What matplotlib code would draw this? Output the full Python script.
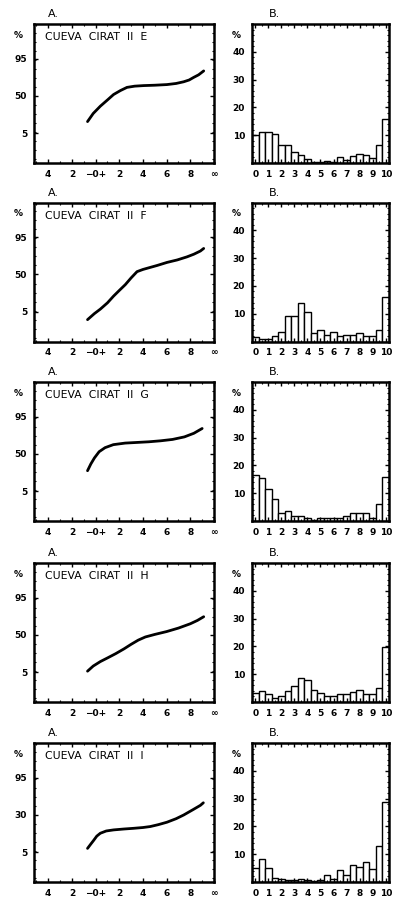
import math
import numpy as np
import matplotlib
matplotlib.use("Agg")
import matplotlib.pyplot as plt

# ---------------- data ----------------
titles = ["CUEVA  CIRAT  II  E", "CUEVA  CIRAT  II  F", "CUEVA  CIRAT  II  G",
          "CUEVA  CIRAT  II  H", "CUEVA  CIRAT  II  I"]
cum_yticklabels = [["95", "50", "5"], ["95", "50", "5"], ["95", "50", "5"],
                   ["95", "50", "5"], ["95", "30", "5"]]
cum_xtick_vals = [-4, -2, 0, 2, 4, 6, 8, 10]
cum_xtick_labels = ["4", "2", "\u22120+", "2", "4", "6", "8", "\u221e"]

# cumulative curves (phi, cumulative %)
phi_E = [-0.68, -0.2, 0.40, 1.0, 1.52, 2.1, 2.65, 3.3, 4.06, 5.0, 6.03, 6.8, 7.44, 7.9, 8.28, 8.7, 9.13]
pct_E = [12.9, 22.0, 32.6, 43.0, 52.6, 59.5, 64.8, 66.8, 67.7, 68.3, 69.3, 71.0, 73.5, 76.0, 79.4, 82.5, 86.6]

phi_F = [-0.68, -0.1, 0.40, 1.0, 1.52, 2.0, 2.51, 3.0, 3.50, 4.0, 4.35, 5.2, 6.03, 6.9, 7.72, 8.3, 8.85, 9.13]
pct_F = [2.3, 4.2, 6.3, 10.5, 17.0, 24.0, 32.7, 44.0, 55.0, 58.8, 60.8, 65.5, 70.3, 74.0, 78.2, 81.5, 85.0, 87.5]

phi_G = [-0.68, -0.4, -0.1, 0.3, 0.8, 1.5, 2.5, 3.5, 4.5, 5.5, 6.5, 7.5, 8.3, 9.0]
pct_G = [23.0, 33.0, 43.0, 54.0, 61.0, 66.0, 68.5, 69.5, 70.5, 72.0, 74.0, 77.5, 82.0, 87.0]

phi_H = [-0.68, -0.2, 0.4, 1.0, 1.7, 2.4, 3.0, 3.6, 4.2, 5.0, 6.0, 7.0, 8.0, 8.6, 9.13]
pct_H = [5.5, 8.5, 12.0, 15.5, 20.5, 27.0, 34.0, 41.0, 46.5, 51.0, 56.0, 62.0, 69.0, 74.0, 79.0]

phi_I = [-0.68, -0.4, -0.17, 0.1, 0.40, 0.9, 1.52, 2.4, 3.21, 4.0, 4.62, 5.3, 6.03, 6.8, 7.44, 8.2, 8.85, 9.1]
pct_I = [7.0, 10.0, 13.0, 17.5, 21.0, 24.0, 25.5, 26.8, 27.8, 29.0, 30.5, 33.5, 37.5, 43.5, 50.0, 59.0, 66.5, 70.5]

curve_phi = [phi_E, phi_F, phi_G, phi_H, phi_I]
curve_pct = [pct_E, pct_F, pct_G, pct_H, pct_I]

# histograms: half-phi classes 0, 0.5, ..., 10 (%)
hist_classes = [k * 0.5 for k in range(21)]
hist_xtick_vals = list(range(11))
hist_xtick_labels = [str(v) for v in range(11)]
hist_yticks = [10, 20, 30, 40]

hist_E = [10.0, 11.3, 11.0, 10.4, 6.5, 6.5, 3.8, 2.9, 1.4, 0.5, 0.5, 0.8, 0.5, 2.0, 1.1, 2.4, 3.2, 2.9, 1.9, 6.5, 16.0]
hist_F = [1.5, 1.0, 1.0, 2.0, 3.5, 9.0, 9.0, 14.0, 10.5, 3.0, 4.0, 2.5, 3.5, 2.0, 2.5, 2.5, 3.0, 2.0, 2.0, 4.0, 16.0]
hist_G = [16.5, 15.3, 11.4, 8.0, 3.0, 3.6, 1.9, 1.9, 0.9, 0.4, 0.9, 1.1, 1.1, 1.1, 1.9, 2.7, 2.8, 2.7, 1.1, 6.2, 15.7]
hist_H = [3.3, 3.9, 3.0, 1.6, 2.2, 3.9, 5.8, 8.7, 7.8, 4.2, 3.4, 2.2, 2.2, 2.8, 3.0, 3.6, 4.2, 3.0, 3.0, 5.2, 19.9]
hist_I = [4.9, 8.3, 5.1, 1.5, 1.0, 0.7, 0.7, 1.0, 0.7, 0.5, 0.7, 2.4, 1.0, 4.3, 2.5, 6.0, 5.5, 7.3, 4.5, 12.9, 28.9]
hists = [hist_E, hist_F, hist_G, hist_H, hist_I]


# ---------------- helpers ----------------
def probit(p_percent):
    """inverse standard normal CDF (bisection on math.erf)"""
    out = []
    for p in p_percent:
        q = p / 100.0
        lo, hi = -8.0, 8.0
        for _ in range(80):
            mid = 0.5 * (lo + hi)
            if 0.5 * (1 + math.erf(mid / math.sqrt(2))) < q:
                lo = mid
            else:
                hi = mid
        out.append(0.5 * (lo + hi))
    return np.array(out)


W, H = 395, 902
fig = plt.figure(figsize=(W / 100, H / 100), dpi=100)
fig.patch.set_facecolor("white")

row_tops = [24, 202.5, 382, 563, 743]
ph = 139
lx0, lx1 = 34, 214
rx0, rx1 = 252, 389

tick_font = dict(fontsize=6.5, fontweight="bold", family="DejaVu Sans")

for i in range(5):
    top = row_tops[i]
    b = 1 - (top + ph) / H
    axA = fig.add_axes([lx0 / W, b, (lx1 - lx0) / W, ph / H])
    axB = fig.add_axes([rx0 / W, b, (rx1 - rx0) / W, ph / H])

    # ---- A: cumulative curve on probability scale ----
    z = probit(curve_pct[i])
    axA.plot(curve_phi[i], z, color="black", lw=2.0, solid_capstyle="round",
             solid_joinstyle="round")
    axA.set_xlim(-5.2, 10.0)
    axA.set_ylim(-2.96, 3.18)
    axA.set_xticks(cum_xtick_vals)
    axA.set_xticklabels(cum_xtick_labels, **tick_font)
    zt = probit([95, 50, 5])
    axA.set_yticks(zt)
    axA.set_yticklabels(cum_yticklabels[i], **tick_font)
    axA.set_xticks(np.arange(-5, 10, 1), minor=True)
    axA.set_yticks(np.arange(-2.8, 3.2, 0.4), minor=True)
    axA.tick_params(which="major", direction="in", length=3, width=1, pad=5,
                    top=True, right=True)
    axA.tick_params(which="minor", direction="in", length=1.5, width=0.8,
                    top=True, right=True)
    for s in axA.spines.values():
        s.set_linewidth(1.8)
    axA.text(-0.085, 0.92, "%", transform=axA.transAxes, ha="center", va="center",
             **tick_font)
    axA.text(0.06, 0.905, titles[i], transform=axA.transAxes, ha="left", va="center",
             fontsize=7.8, family="DejaVu Sans")
    axA.text(0.075, 1.035, "A.", transform=axA.transAxes, ha="left", va="bottom",
             fontsize=8, family="DejaVu Sans")

    # ---- B: histogram ----
    axB.bar(hist_classes, hists[i], width=0.5, color="white", edgecolor="black",
            linewidth=1.0, align="center")
    axB.set_xlim(-0.25, 10.25)
    axB.set_ylim(0, 50)
    axB.set_xticks(hist_xtick_vals)
    axB.set_xticklabels(hist_xtick_labels, **tick_font)
    axB.set_yticks(hist_yticks)
    axB.set_yticklabels([str(v) for v in hist_yticks], **tick_font)
    axB.set_xticks(hist_classes, minor=True)
    axB.set_yticks(np.arange(0, 50, 2), minor=True)
    axB.tick_params(which="major", direction="in", length=3, width=1, pad=5,
                    top=True, right=True)
    axB.tick_params(which="minor", direction="in", length=1.5, width=0.8,
                    top=True, right=True)
    for s in axB.spines.values():
        s.set_linewidth(1.8)
    axB.text(-0.115, 0.92, "%", transform=axB.transAxes, ha="center", va="center",
             **tick_font)
    axB.text(0.12, 1.035, "B.", transform=axB.transAxes, ha="left", va="bottom",
             fontsize=8, family="DejaVu Sans")

fig.savefig("out.png", dpi=100, facecolor="white")
